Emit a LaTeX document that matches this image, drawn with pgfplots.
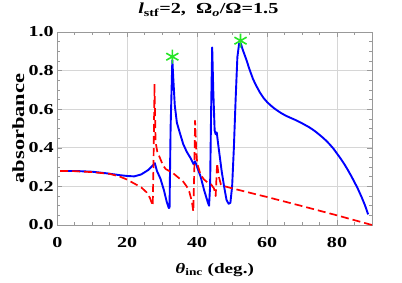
\documentclass[border=0pt]{standalone}
\usepackage{fontspec}
\setmainfont{Liberation Serif}[FakeStretch=1.32]
\usepackage{pgfplots}
\pgfplotsset{compat=1.18}
\definecolor{myblue}{rgb}{0,0,1}
\definecolor{myred}{rgb}{1,0,0}
\definecolor{mygreen}{rgb}{0.15,0.9,0.15}
\definecolor{framegray}{gray}{0.6}
\definecolor{gridgray}{gray}{0.84}
\newcommand{\lblfont}{\bfseries\fontsize{14.5}{17}\selectfont}
\newcommand{\tickfont}{\bfseries\fontsize{15.2}{17}\selectfont}
\newcommand{\ylblfont}{\bfseries\fontsize{17}{19}\selectfont}
\newcommand{\ttlfont}{\bfseries\fontsize{15.3}{18}\selectfont}
\begin{document}
\begin{tikzpicture}
\path[use as bounding box] (-57.3pt,-57pt) rectangle (344.7pt,225pt);
\begin{axis}[
  at={(0,0)}, anchor=south west,
  scale only axis, width=314.7pt, height=193pt,
  xmin=0, xmax=90, ymin=0, ymax=1,
  xtick={0,20,40,60,80}, ytick={0,0.2,0.4,0.6,0.8,1.0},
  minor xtick={5,10,15,25,30,35,45,50,55,65,70,75,85},
  minor ytick={0.05,0.1,0.15,0.25,0.3,0.35,0.45,0.5,0.55,0.65,0.7,0.75,0.85,0.9,0.95},
  grid=major, major grid style={gridgray, line width=0.8pt},
  tick align=inside, major tick length=5pt, minor tick length=3pt,
  every tick/.style={framegray, line width=0.6pt},
  axis line style={framegray, line width=0.8pt},
  /pgf/number format/assume math mode=true,
  tick label style={font=\tickfont},
  yticklabel style={/pgf/number format/.cd, fixed, fixed zerofill, precision=1},
  xticklabel style={anchor=base, yshift=-22.3pt},
  xlabel={{\itshape θ}\textsubscript{inc} (deg.)},
  xlabel style={at={(axis description cs:0.5,-0.2487)}, anchor=base, font=\lblfont},
  ylabel={absorbance},
  ylabel style={at={(axis description cs:-0.1058,0.5)}, anchor=base, font=\ylblfont},
  title={{\itshape l}\textsubscript{stf}=2,\ \ Ω\textsubscript{\itshape o}/Ω=1.5},
  title style={at={(axis description cs:0.48,1.0622)}, anchor=base, font=\ttlfont},
]
\addplot[myblue, line width=1.9pt, line join=round] coordinates {
(0.8,0.280) (5,0.280) (10,0.276) (14,0.268) (18,0.258) (20,0.254) (22,0.252)
(24,0.262) (26,0.285) (27.9,0.320) (28.5,0.28) (29.5,0.24) (30.5,0.18)
(31.3,0.12) (31.9,0.088) (32.1,0.09) (32.4,0.5) (32.9,0.855) (33.2,0.75)
(33.6,0.62) (34.2,0.53) (35,0.48) (36,0.42) (37,0.38) (38,0.35) (39,0.315)
(39.4,0.33) (40,0.30) (41,0.25) (42,0.18) (43,0.12) (43.4,0.10) (43.7,0.2)
(44.0,0.6) (44.3,0.92) (44.6,0.7) (45.0,0.49) (45.3,0.47) (45.6,0.48)
(46,0.42) (46.5,0.35) (47,0.28) (47.7,0.2) (48.4,0.13) (49,0.11) (49.5,0.115)
(50,0.2) (50.5,0.40) (51,0.65) (51.5,0.87) (52,0.94) (52.5,0.94) (53,0.91)
(54,0.86) (55,0.805) (56,0.755) (57,0.718) (58,0.685) (59,0.658) (60,0.637)
(61,0.62) (62,0.605) (63,0.592) (64,0.58) (65,0.57) (66,0.561) (67,0.553)
(68,0.545) (69,0.536) (70,0.527) (71,0.517) (72,0.507) (73,0.495) (74,0.482)
(75,0.467) (76,0.452) (77,0.435) (78,0.416) (79,0.395) (80,0.37) (81,0.345)
(82,0.318) (83,0.288) (84,0.256) (85,0.222) (86,0.186) (87,0.146) (88,0.102)
(88.9,0.055)
};
\addplot[myred, line width=1.7pt, dash pattern=on 8pt off 4pt, line join=round] coordinates {
(0.8,0.28) (5,0.279) (10,0.274) (15,0.265) (18,0.25) (20,0.235) (22,0.215)
(24,0.195) (25.5,0.17) (26.5,0.14) (27.3,0.10) (27.5,0.3) (27.8,0.73)
(28.1,0.43) (28.6,0.38) (29.3,0.35) (30.2,0.31) (31,0.29) (32,0.28) (33,0.27)
(34,0.255) (35,0.24) (36,0.225) (37,0.2) (37.8,0.17) (38.5,0.12) (38.9,0.07)
(39.2,0.3) (39.4,0.54) (39.7,0.40) (40,0.32) (41,0.26) (42,0.235) (43,0.22)
(44,0.21) (44.8,0.19) (45.3,0.15) (45.7,0.32) (46.2,0.25) (46.8,0.21) (48,0.2)
(50,0.19) (60,0.145) (70,0.098) (80,0.05) (90,0.0)
};
\addplot[only marks, mark=asterisk, mark size=7pt, mygreen, line width=1.6pt] coordinates {
(32.9,0.872) (52.4,0.955)
};
\end{axis}
\end{tikzpicture}
\end{document}
